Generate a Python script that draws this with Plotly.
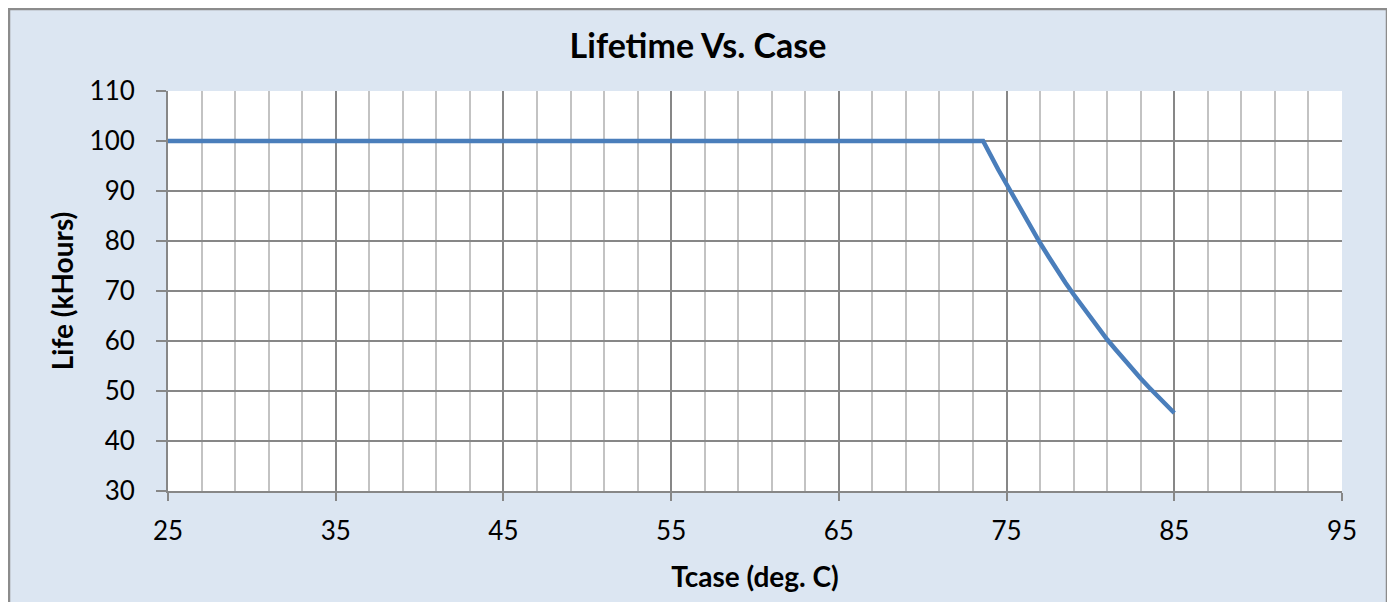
import plotly.graph_objects as go

# Data
tcase = [25, 73.6, 74.5, 75, 75.5, 76, 76.5, 77, 77.5, 78, 78.5, 79, 79.5, 80, 80.5, 81, 81.5, 82, 82.5, 83, 83.5, 84, 84.5, 85]
life_khours = [100, 100, 94.3, 91.3, 88.2, 85.2, 82.4, 79.6, 76.9, 74.2, 71.7, 69.3, 67.0, 64.7, 62.5, 60.3, 58.3, 56.3, 54.4, 52.5, 50.7, 49.0, 47.3, 45.6]

x_ticks = [25, 35, 45, 55, 65, 75, 85, 95]
y_ticks = [30, 40, 50, 60, 70, 80, 90, 100, 110]

FONT = "Lato"
W, H = 1380, 602
L, R, T, B = 160, 46, 83, 119
pw, ph = W - L - R, H - T - B

fig = go.Figure()
fig.add_trace(go.Scatter(
    x=tcase, y=life_khours, mode="lines",
    line=dict(color="#4A7EBB", width=4.5),
    showlegend=False, hoverinfo="x+y",
))

grid_dark = "#878787"
grid_light = "#C3C3C3"

fig.update_layout(
    width=W, height=H,
    margin=dict(l=L, r=R, t=T, b=B, pad=0),
    paper_bgcolor="#DCE6F2",
    plot_bgcolor="white",
    font=dict(family=FONT, size=26, color="black"),
    title=dict(text="<b>Lifetime Vs. Case</b>", x=0.5, xref="container", xanchor="center",
               y=1 - 38 / H, yref="container", yanchor="middle",
               font=dict(family=FONT, size=34, color="black")),
    xaxis=dict(
        range=[25, 95], tickmode="array", tickvals=x_ticks, ticktext=[str(v) for v in x_ticks],
        showgrid=True, gridcolor=grid_dark, gridwidth=1.5,
        minor=dict(tickmode="linear", tick0=25, dtick=2, showgrid=True, gridcolor=grid_light, gridwidth=1.5, ticks=""),
        showline=True, linecolor=grid_dark, linewidth=2,
        ticks="outside", ticklen=8, tickwidth=1.5, tickcolor=grid_dark,
        ticklabelstandoff=8,
        zeroline=False,
        title=dict(text="<b>Tcase (deg. C)</b>", standoff=22, font=dict(family=FONT, size=28)),
    ),
    yaxis=dict(
        range=[30, 110], tickmode="array", tickvals=y_ticks, ticktext=[str(v) for v in y_ticks],
        showgrid=True, gridcolor=grid_dark, gridwidth=1.5,
        showline=True, linecolor=grid_dark, linewidth=2,
        ticks="outside", ticklen=10, tickwidth=1.5, tickcolor=grid_dark,
        ticklabelstandoff=16,
        zeroline=False,
        title=dict(text="<b>Life (kHours)</b>", standoff=8, font=dict(family=FONT, size=28)),
    ),
)

# Grey border around the whole chart area
fig.add_shape(type="rect", xref="paper", yref="paper",
              x0=(1 - L) / pw, x1=(W - L - 1) / pw,
              y0=(B - H + 1) / ph, y1=(H - B - 1) / ph,
              fillcolor="rgba(0,0,0,0)", line=dict(color="#8C8C8C", width=2.5), layer="above")

fig.write_html("out.html")
